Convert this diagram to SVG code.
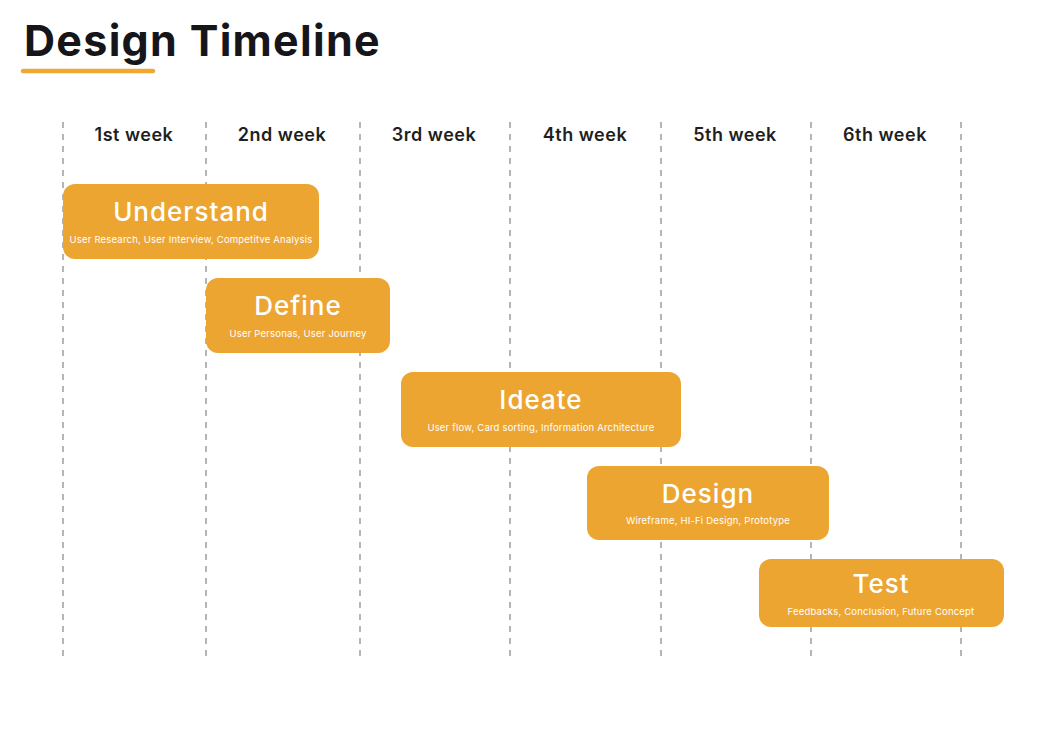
<svg xmlns="http://www.w3.org/2000/svg" width="1041" height="731" viewBox="0 0 1041 731">
<style>
.bg{fill:#ffffff}
.title{font-family:Inter,"Noto Sans",sans-serif;font-weight:700;font-size:43px;letter-spacing:1.3px;fill:#16161a}
.wk{font-family:Inter,"Noto Sans",sans-serif;font-weight:600;font-size:18px;letter-spacing:0.5px;fill:#1f1f22;text-anchor:middle}
.grid line{stroke:#8e8e8e;stroke-width:1.3;stroke-dasharray:6 6}
.box{fill:#EDA532}
.bt{font-family:Inter,"Noto Sans",sans-serif;font-weight:500;font-size:26px;letter-spacing:1px;fill:#ffffff;text-anchor:middle}
.bs{font-family:Inter,"Noto Sans",sans-serif;font-size:9.5px;letter-spacing:0.2px;fill:#ffffff;text-anchor:middle}
</style>
<rect class="bg" x="0" y="0" width="1041" height="731"/>
<text class="title" x="24" y="56">Design Timeline</text>
<line x1="23" y1="71" x2="153" y2="71" stroke="#F0A832" stroke-width="4.5" stroke-linecap="round"/>
<g id="connectors" class="grid">
<line x1="63" y1="122" x2="63" y2="656"/>
<line x1="206" y1="122" x2="206" y2="656"/>
<line x1="360" y1="122" x2="360" y2="656"/>
<line x1="510" y1="122" x2="510" y2="656"/>
<line x1="661" y1="122" x2="661" y2="656"/>
<line x1="811" y1="122" x2="811" y2="656"/>
<line x1="961" y1="122" x2="961" y2="656"/>
</g>
<g id="weeks">
<text class="wk" x="134" y="141">1st week</text>
<text class="wk" x="282" y="141">2nd week</text>
<text class="wk" x="434" y="141">3rd week</text>
<text class="wk" x="585" y="141">4th week</text>
<text class="wk" x="735" y="141">5th week</text>
<text class="wk" x="885" y="141">6th week</text>
</g>
<g id="understand">
<rect class="box" x="63" y="184" width="256" height="75" rx="12"/>
<text class="bt" x="191" y="221">Understand</text>
<text class="bs" x="191" y="243">User Research, User Interview, Competitve Analysis</text>
</g>
<g id="define">
<rect class="box" x="206" y="278" width="184" height="75" rx="12"/>
<text class="bt" x="298" y="315">Define</text>
<text class="bs" x="298" y="337">User Personas, User Journey</text>
</g>
<g id="ideate">
<rect class="box" x="401" y="372" width="280" height="75" rx="12"/>
<text class="bt" x="541" y="409">Ideate</text>
<text class="bs" x="541" y="431">User flow, Card sorting, Information Architecture</text>
</g>
<g id="design">
<rect class="box" x="587" y="466" width="242" height="74" rx="12"/>
<text class="bt" x="708" y="503">Design</text>
<text class="bs" x="708" y="524">Wireframe, HI-Fi Design, Prototype</text>
</g>
<g id="test">
<rect class="box" x="759" y="559" width="245" height="68" rx="12"/>
<text class="bt" x="881" y="593">Test</text>
<text class="bs" x="881" y="615">Feedbacks, Conclusion, Future Concept</text>
</g>
</svg>
